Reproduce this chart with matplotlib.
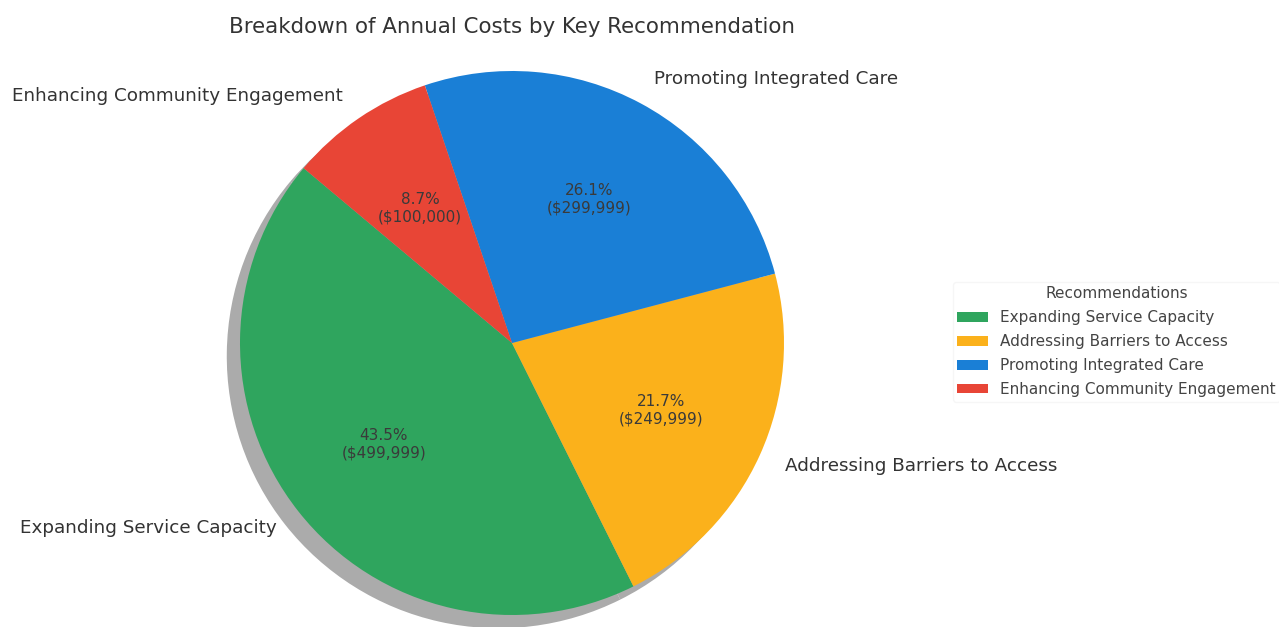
import matplotlib.pyplot as plt

import matplotlib
font = {'family': 'DejaVu Sans',
        'weight': 'normal',
        'size': 13}
matplotlib.rc('font', **font)

categories = ['Expanding Service Capacity', 'Addressing Barriers to Access',
              'Promoting Integrated Care', 'Enhancing Community Engagement']
costs = [499999, 249999, 299999, 100000]
colors = ['#2fa55e', '#fbb11b', '#1a7fd6', '#e84536']
title = 'Breakdown of Annual Costs by Key Recommendation'

total = sum(costs)


def fmt_pct(pct):
    val = int(round(pct * total / 100.0))
    return '{:.1f}%\n(${:,})'.format(pct, val)


W, H = 1279, 627
fig = plt.figure(figsize=(W / 100, H / 100), dpi=100)
# axes in pixels: centre (512, 284 from bottom), half size 299px
cx, cy, half = 512, 284, 299
ax = fig.add_axes([(cx - half) / W, (cy - half) / H, 2 * half / W, 2 * half / H])

wedges, texts, autotexts = ax.pie(
    costs, labels=categories, colors=colors, startangle=140,
    autopct=fmt_pct, pctdistance=0.6, labeldistance=1.1,
    shadow={'ox': -0.035, 'oy': -0.035, 'facecolor': '#9c9c9c',
            'edgecolor': 'none', 'alpha': 0.85},
    textprops={'color': '#333333', 'fontsize': 13.2})
for t in autotexts:
    t.set_fontsize(11)
    t.set_color('#3a3a3a')

lim = half / 272.0
ax.set_xlim(-lim, lim)
ax.set_ylim(-lim, lim)
ax.set_title(title, fontsize=15.4, color='#333333', pad=8)

leg = fig.legend(wedges, categories, title='Recommendations',
                 loc='center left', bbox_to_anchor=(945 / W, 0.455),
                 fontsize=11, title_fontsize=11, frameon=True,
                 handlelength=2.0, handleheight=0.6, labelspacing=0.58,
                 borderpad=0.3)
leg.get_frame().set_edgecolor('#f4f4f4')
for t in leg.get_texts():
    t.set_color('#444444')
leg.get_title().set_color('#444444')

fig.savefig('out.png', dpi=100)
